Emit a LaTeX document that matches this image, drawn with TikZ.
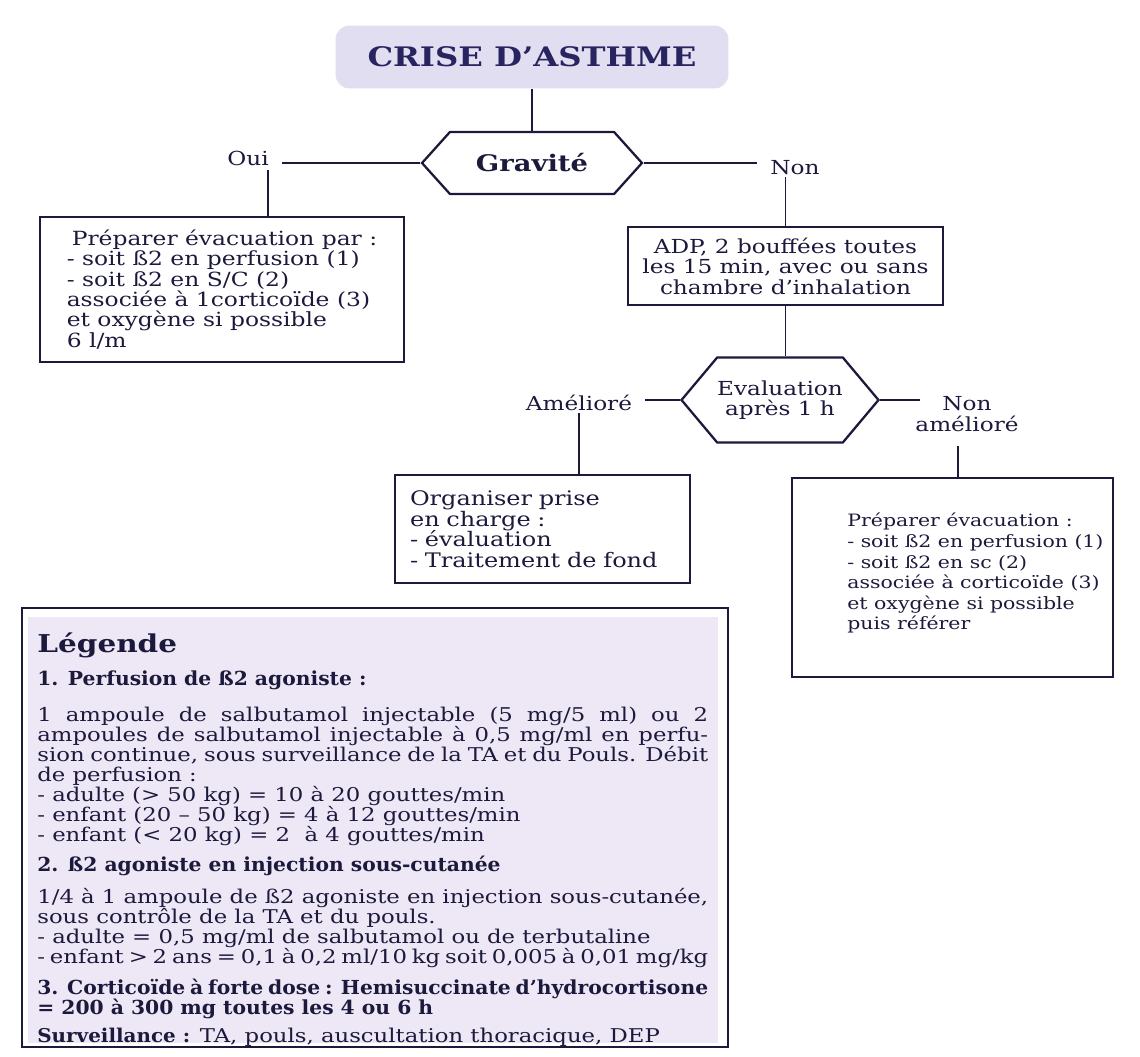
\documentclass[tikz,border=0pt]{standalone}
\usepackage{fontspec}
\setmainfont{DejaVu Serif}[FakeStretch=1.2]
\newfontfamily\headfont{DejaVu Serif}[FakeStretch=1.05]
\usetikzlibrary{shapes.symbols}
\definecolor{InkNavy}{RGB}{28,26,60}
\definecolor{TitleNavy}{RGB}{40,36,96}
\definecolor{TitleFill}{RGB}{224,222,240}
\definecolor{LegendFill}{RGB}{238,231,246}
\def\legw{13.42cm}
\tikzset{
  flowtxt/.style={font=\fontsize{11}{11.7}\selectfont, text=InkNavy},
  flowbox/.style={flowtxt, draw=InkNavy, line width=1.3pt, inner sep=0pt},
  hexa/.style={flowbox, shape=signal, signal to=east and west, align=center},
  lbl/.style={flowtxt, inner xsep=0.26cm, inner ysep=1pt},
  link/.style={draw=InkNavy, line width=1.1pt},
  legtxt/.style={font=\fontsize{10.8}{11.4}\selectfont, text=InkNavy, inner sep=0pt, align=left},
  leghead/.style={legtxt, font=\headfont\fontsize{11}{11.4}\selectfont\bfseries},
}
\begin{document}
\begin{tikzpicture}[x=0.02cm, y=-0.02cm]
  \useasboundingbox (0,0) rectangle (1140,1057);
  % flowchart
  \node[rounded corners=8pt, fill=TitleFill, minimum width=7.86cm, minimum height=1.26cm,
    font=\fontsize{15.3}{16}\selectfont\bfseries, text=TitleNavy] (title) at (532,57) {CRISE D’ASTHME};
  \node[hexa, signal pointer angle=96, minimum width=4.4cm, minimum height=1.24cm,
    font=\fontsize{13}{14}\selectfont\bfseries] (grav) at (532,163) {Gravité};
  \node[lbl] (oui) at (248,158) {Oui};
  \node[lbl] (non) at (795,168) {Non};
  \node[flowbox, font=\fontsize{11.1}{11.6}\selectfont, minimum width=7.28cm, minimum height=2.9cm,
    align=left] (evac1) at (222,289.5)
    {\hspace{0.1cm}Préparer évacuation par :\\- soit ß2 en perfusion (1)\\- soit ß2 en S/C (2)\\associée à 1corticoïde (3)\\et oxygène si possible\\6 l/m};
  \node[flowbox, minimum width=6.3cm, minimum height=1.56cm, align=center] (adp) at (785.5,266)
    {ADP, 2 bouffées toutes\\les 15 min, avec ou sans\\chambre d’inhalation};
  \node[hexa, signal pointer angle=100, minimum width=3.74cm, minimum height=1.7cm] (eval) at (780,400)
    {Evaluation\\après 1 h};
  \node[lbl] (amel) at (579,403) {Amélioré};
  \node[lbl, align=center] (nonam) at (967,414) {Non\\amélioré};
  \coordinate (nonamend) at (920,400);
  \coordinate (nonamdrop) at (958,446);
  \node[flowbox, font=\fontsize{11.4}{11.7}\selectfont, minimum width=5.9cm, minimum height=2.16cm,
    text width=5.3cm, align=left] (orga) at (542.5,529)
    {Organiser prise\\en charge :\\- évaluation\\- Traitement de fond};
  \node[flowbox, minimum width=6.42cm, minimum height=3.98cm] (evac2) at (952.5,577.5) {};
  \node[flowtxt, font=\fontsize{9.7}{11.7}\selectfont, align=left, anchor=north west, inner sep=0pt] (evac2txt) at (847,513)
    {Préparer évacuation :\\- soit ß2 en perfusion (1)\\- soit ß2 en sc (2)\\associée à corticoïde (3)\\et oxygène si possible\\puis référer};
  \draw[link] (title.south) -- (grav.north);
  \draw[link] (grav.west) -- (grav.west -| oui.east);
  \draw[link] (grav.east) -- (grav.east -| non.west);
  \coordinate (ouidrop) at (268,170);
  \draw[link] (ouidrop) -- (ouidrop |- evac1.north);
  \draw[link] (adp.north) -- (adp.north |- non.south);
  \draw[link] (adp.south) -- (adp.south |- eval.north);
  \draw[link] (eval.west) -- (eval.west -| amel.east);
  \draw[link] (eval.east) -- (eval.east -| nonamend);
  \draw[link] (amel.south) -- (amel.south |- orga.north);
  \draw[link] (nonamdrop) -- (nonamdrop |- evac2.north);
  % legend
  \fill[LegendFill] (28,617) rectangle (718,1043);
  \draw[InkNavy, line width=1.3pt] (22,608) rectangle (728,1047);
  \node[legtxt, anchor=west, font=\fontsize{14}{15}\selectfont\bfseries] (legtitle) at (37,645) {Légende};
  \node[leghead, anchor=west] (leg1h) at (37,680) {1. Perfusion de ß2 agoniste :};
  \node[legtxt, anchor=north west] (leg1) at (37,707)
    {\makebox[\legw][s]{1 ampoule de salbutamol injectable (5 mg/5 ml) ou 2}\\
     \makebox[\legw][s]{ampoules de salbutamol injectable à 0,5 mg/ml en perfu-}\\
     \makebox[\legw][s]{sion continue, sous surveillance de la TA et du Pouls. Débit}\\
     de perfusion :\\
     - adulte (> 50 kg) = 10 à 20 gouttes/min\\
     - enfant (20 – 50 kg) = 4 à 12 gouttes/min\\
     - enfant (< 20 kg) = 2~ à 4 gouttes/min};
  \node[leghead, anchor=west] (leg2h) at (37,866) {2. ß2 agoniste en injection sous-cutanée};
  \node[legtxt, anchor=north west] (leg2) at (37,888)
    {\makebox[\legw][s]{1/4 à 1 ampoule de ß2 agoniste en injection sous-cutanée,}\\
     sous contrôle de la TA et du pouls.\\
     - adulte = 0,5 mg/ml de salbutamol ou de terbutaline\\
     \makebox[\legw][s]{- enfant > 2 ans = 0,1 à 0,2 ml/10 kg soit 0,005 à 0,01 mg/kg}};
  \node[leghead, anchor=north west] (leg3) at (37,979)
    {\makebox[\legw][s]{3. Corticoïde à forte dose : Hemisuccinate d’hydrocortisone}\\
     = 200 à 300 mg toutes les 4 ou 6 h};
  \node[legtxt, anchor=west] (legsurv) at (37,1037)
    {{\headfont\bfseries Surveillance :} TA, pouls, auscultation thoracique, DEP};
\end{tikzpicture}
\end{document}
